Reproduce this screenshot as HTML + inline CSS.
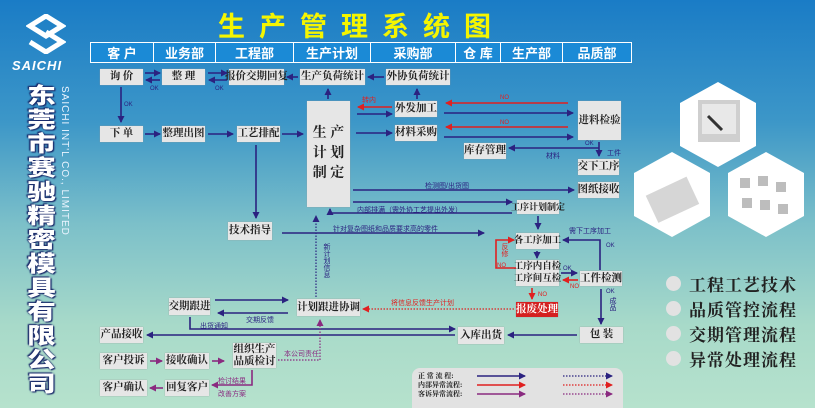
<!DOCTYPE html>
<html><head><meta charset="utf-8"><style>
*{margin:0;padding:0;box-sizing:border-box}
html,body{width:815px;height:408px;overflow:hidden}
#w{position:absolute;left:0;top:0;width:815px;height:408px;overflow:hidden;background:linear-gradient(180deg,#1a7cc6 0%,#3d97c8 30%,#7cc0c9 55%,#a8dac9 80%,#b6e2cd 100%);font-family:"Liberation Serif","Noto Serif CJK SC",serif}
.b{position:absolute;background:#e6e6e6;color:#222;font-weight:bold;font-size:10.5px;display:flex;align-items:center;justify-content:center;text-align:center;line-height:12px;white-space:nowrap;box-shadow:0 0 1px #999}
.h{position:absolute;top:42px;height:21px;border:1px solid #fff;background:#1b8ad6;color:#fff;font-family:"Liberation Sans","Noto Sans CJK SC",sans-serif;font-weight:bold;font-size:13px;display:flex;align-items:center;justify-content:center}
.t{position:absolute;font-family:"Liberation Sans","Noto Sans CJK SC",sans-serif;font-size:7px;color:#2b2280;white-space:nowrap}
.r{color:#e02020}.p{color:#8a2a80}
.bl{position:absolute;left:666px;font-size:17px;font-weight:bold;color:#222;display:flex;align-items:center;letter-spacing:1px}
.bl i{display:inline-block;width:15px;height:15px;border-radius:50%;background:#e2e2e2;margin-right:8px}
</style></head><body><div id="w">
<div style="position:absolute;left:218px;top:5px;font-family:'Liberation Sans','Noto Sans CJK SC',sans-serif;font-weight:bold;font-size:27px;color:#f5f500;letter-spacing:14px">生产管理系统图</div>
<div class="h" style="left:90px;width:64px">客 户</div>
<div class="h" style="left:153px;width:63px">业务部</div>
<div class="h" style="left:215px;width:79px">工程部</div>
<div class="h" style="left:293px;width:78px">生产计划</div>
<div class="h" style="left:370px;width:86px">采购部</div>
<div class="h" style="left:455px;width:46px">仓 库</div>
<div class="h" style="left:500px;width:63px">生产部</div>
<div class="h" style="left:562px;width:70px">品质部</div>

<svg style="position:absolute;left:26px;top:14px" width="40" height="40" viewBox="0 0 40 40"><path d="M20 2 L36 12 L20 22 L4 12 Z" fill="none" stroke="#fff" stroke-width="5"/><path d="M20 18 L36 28 L20 38 L4 28" fill="none" stroke="#fff" stroke-width="5"/></svg>
<div style="position:absolute;left:12px;top:58px;font-family:'Liberation Sans',sans-serif;font-weight:bold;font-style:italic;font-size:13px;color:#fff;letter-spacing:1px">SAICHI</div>
<div style="position:absolute;left:22px;top:84px;height:320px;writing-mode:vertical-rl;white-space:nowrap;transform:scaleX(1.3);transform-origin:left top;font-family:'Liberation Sans','Noto Sans CJK SC',sans-serif;font-weight:900;font-size:22px;letter-spacing:2px;line-height:26px;color:#fff;text-shadow:0 0 2px #1a2a6a,1px 1px 1px #1a2a6a,-1px -1px 1px #1a2a6a">东莞市赛驰精密模具有限公司</div>
<div style="position:absolute;left:59px;top:86px;writing-mode:vertical-rl;white-space:nowrap;font-family:'Liberation Sans',sans-serif;font-size:10px;color:#eaf4ff;letter-spacing:1px">SAICHI INT'L CO., LIMITED</div>

<div class="b" style="left:100px;top:69px;width:43px;height:16px">询 价</div>
<div class="b" style="left:162px;top:69px;width:43px;height:16px">整 理</div>
<div class="b" style="left:229px;top:69px;width:55px;height:16px">报价交期回复</div>
<div class="b" style="left:300px;top:69px;width:65px;height:16px">生产负荷统计</div>
<div class="b" style="left:386px;top:69px;width:64px;height:16px">外协负荷统计</div>
<div class="b" style="left:100px;top:126px;width:43px;height:16px">下 单</div>
<div class="b" style="left:162px;top:126px;width:43px;height:16px">整理出图</div>
<div class="b" style="left:237px;top:126px;width:43px;height:16px">工艺排配</div>
<div class="b" style="left:307px;top:101px;width:43px;height:106px;font-size:14px;line-height:20px">生 产<br>计 划<br>制 定</div>
<div class="b" style="left:395px;top:101px;width:42px;height:16px">外发加工</div>
<div class="b" style="left:395px;top:125px;width:42px;height:16px">材料采购</div>
<div class="b" style="left:578px;top:101px;width:43px;height:39px">进料检验</div>
<div class="b" style="left:464px;top:143px;width:42px;height:16px">库存管理</div>
<div class="b" style="left:578px;top:159px;width:41px;height:16px">交下工序</div>
<div class="b" style="left:578px;top:182px;width:41px;height:16px">图纸接收</div>
<div class="b" style="left:517px;top:200px;width:42px;height:14px;font-size:9px">工序计划制定</div>
<div class="b" style="left:228px;top:222px;width:44px;height:18px">技术指导</div>
<div class="b" style="left:516px;top:233px;width:43px;height:16px;font-size:9.5px">各工序加工</div>
<div class="b" style="left:516px;top:260px;width:43px;height:26px;font-size:9.5px">工序内自检<br>工序间互检</div>
<div class="b" style="left:580px;top:271px;width:42px;height:15px">工件检测</div>
<div class="b" style="left:516px;top:302px;width:42px;height:15px;background:#d42020;color:#fff">报废处理</div>
<div class="b" style="left:169px;top:298px;width:41px;height:17px">交期跟进</div>
<div class="b" style="left:297px;top:299px;width:63px;height:17px">计划跟进协调</div>
<div class="b" style="left:100px;top:327px;width:43px;height:16px">产品接收</div>
<div class="b" style="left:458px;top:327px;width:46px;height:17px">入库出货</div>
<div class="b" style="left:580px;top:327px;width:43px;height:16px">包 装</div>
<div class="b" style="left:100px;top:353px;width:47px;height:16px">客户投诉</div>
<div class="b" style="left:165px;top:353px;width:44px;height:16px">接收确认</div>
<div class="b" style="left:233px;top:343px;width:43px;height:25px">组织生产<br>品质检讨</div>
<div class="b" style="left:100px;top:380px;width:47px;height:16px">客户确认</div>
<div class="b" style="left:165px;top:380px;width:44px;height:16px">回复客户</div>
<div style="position:absolute;left:412px;top:368px;width:211px;height:50px;background:#e2e2e2;border-radius:8px"></div>
<div style="position:absolute;left:418px;top:372px;font-size:7px;line-height:9px;font-weight:bold;color:#222">正 常 流 程:<br>内部异常流程:<br>客诉异常流程:</div>

<svg style="position:absolute;left:0;top:0" width="815" height="408">
<defs>
<marker id="n" markerUnits="userSpaceOnUse" markerWidth="7" markerHeight="7" refX="6" refY="3.5" orient="auto"><path d="M0,0 L7,3.5 L0,7 Z" fill="#2b2280"/></marker>
<marker id="rd" markerUnits="userSpaceOnUse" markerWidth="7" markerHeight="7" refX="6" refY="3.5" orient="auto"><path d="M0,0 L7,3.5 L0,7 Z" fill="#e02020"/></marker>
<marker id="pu" markerUnits="userSpaceOnUse" markerWidth="7" markerHeight="7" refX="6" refY="3.5" orient="auto"><path d="M0,0 L7,3.5 L0,7 Z" fill="#8a2a80"/></marker>
</defs>
<g stroke="#2b2280" stroke-width="1.6" fill="none" marker-end="url(#n)">
<path d="M145 73H160"/><path d="M160 80H146"/><path d="M208 73H227"/><path d="M227 80H209"/>
<path d="M298 77H287"/><path d="M384 77H368"/><path d="M328 99V89"/><path d="M417 99V89"/>
<path d="M121 87V122"/><path d="M145 134H160"/><path d="M208 134H233"/><path d="M282 134H303"/>
<path d="M357 114H392"/><path d="M356 133H392"/><path d="M444 113H573"/><path d="M444 137H573"/>
<path d="M599 142V156"/><path d="M599 148H509"/>
<path d="M353 190H574"/><path d="M353 202H512"/><path d="M512 213H330V209"/>
<path d="M256 145V218"/><path d="M282 233H484"/><path d="M538 216V229"/><path d="M537 251V258"/>
<path d="M561 273H577"/><path d="M600 270V240H563"/><path d="M601 289V324"/><path d="M577 335H508"/>
<path d="M190 317V329H455"/><path d="M455 335H147"/><path d="M215 300H288"/><path d="M288 313H218"/>
<path d="M477 376H525"/>
</g>
<g stroke="#2b2280" stroke-width="1.2" fill="none" stroke-dasharray="1.5 1.5" marker-end="url(#n)"><path d="M316 297V216"/><path d="M563 376H612"/></g>
<g stroke="#e02020" stroke-width="1.6" fill="none" marker-end="url(#rd)">
<path d="M392 107H358"/><path d="M568 103H446"/><path d="M568 127H446"/>
<path d="M516 268H496V240H514"/><path d="M578 280H563"/><path d="M532 288V299"/><path d="M477 385H525"/>
</g>
<g stroke="#e02020" stroke-width="1.2" fill="none" stroke-dasharray="1.5 1.5" marker-end="url(#rd)"><path d="M514 309H363"/><path d="M563 385H612"/></g>
<g stroke="#8a2a80" stroke-width="1.6" fill="none" marker-end="url(#pu)">
<path d="M150 361H162"/><path d="M212 361H224"/><path d="M252 370V385H212"/><path d="M163 388H150"/><path d="M477 394H525"/>
</g>
<g stroke="#8a2a80" stroke-width="1.2" fill="none" stroke-dasharray="1.5 1.5" marker-end="url(#pu)"><path d="M278 360H320V320"/><path d="M563 394H612"/></g>
</svg>

<div class="t" style="left:150px;top:86px;font-size:6px">OK</div>
<div class="t" style="left:215px;top:86px;font-size:6px">OK</div>
<div class="t" style="left:124px;top:102px;font-size:6px">OK</div>
<div class="t r" style="left:362px;top:95px">转内</div>
<div class="t r" style="left:500px;top:95px;font-size:6px">NO</div>
<div class="t r" style="left:500px;top:120px;font-size:6px">NO</div>
<div class="t" style="left:585px;top:141px;font-size:6px">OK</div>
<div class="t" style="left:607px;top:148px">工件</div>
<div class="t" style="left:546px;top:151px">材料</div>
<div class="t" style="left:425px;top:181px">检测图/出货图</div>
<div class="t" style="left:357px;top:205px">内部排满（需外协工艺提出外发）</div>
<div class="t" style="left:333px;top:224px">针对复杂图纸和品质要求高的零件</div>
<div class="t" style="left:569px;top:226px">需下工序加工</div>
<div class="t" style="left:606px;top:243px;font-size:6px">OK</div>
<div class="t r" style="left:498px;top:243px;line-height:13px;writing-mode:vertical-rl">反修</div>
<div class="t r" style="left:497px;top:263px;font-size:6px">NO</div>
<div class="t" style="left:563px;top:266px;font-size:6px">OK</div>
<div class="t r" style="left:570px;top:284px;font-size:6px">NO</div>
<div class="t r" style="left:538px;top:292px;font-size:6px">NO</div>
<div class="t" style="left:606px;top:289px;font-size:6px">OK</div>
<div class="t" style="left:606px;top:297px;line-height:12px;writing-mode:vertical-rl">成品</div>
<div class="t r" style="left:391px;top:298px">将信息反馈生产计划</div>
<div class="t" style="left:322px;top:243px;line-height:9px;writing-mode:vertical-rl">新计划信息</div>
<div class="t" style="left:246px;top:315px">交期反馈</div>
<div class="t" style="left:200px;top:321px">出货通知</div>
<div class="t p" style="left:284px;top:349px">本公司责任</div>
<div class="t p" style="left:218px;top:376px">检讨结果</div>
<div class="t p" style="left:218px;top:389px">改善方案</div>

<svg style="position:absolute;left:630px;top:80px" width="185" height="160">
<polygon points="88,2 126,23 126,66 88,87 50,66 50,23" fill="#fff"/>
<rect x="68" y="20" width="42" height="42" fill="#cfcfcf"/><rect x="72" y="24" width="34" height="30" fill="#e8e8e8"/><path d="M78 36 L92 50" stroke="#333" stroke-width="3"/>
<polygon points="42,72 80,93 80,136 42,157 4,136 4,93" fill="#fff"/>
<rect x="20" y="105" width="45" height="30" fill="#d6d6d6" transform="rotate(-25 42 120)"/>
<polygon points="136,72 174,93 174,136 136,157 98,136 98,93" fill="#fff"/>
<g fill="#bdbdbd"><rect x="110" y="98" width="10" height="10"/><rect x="128" y="96" width="10" height="10"/><rect x="146" y="102" width="10" height="10"/><rect x="112" y="118" width="10" height="10"/><rect x="130" y="120" width="10" height="10"/><rect x="148" y="124" width="10" height="10"/></g>
</svg>

<div class="bl" style="top:271px"><i></i>工程工艺技术</div>
<div class="bl" style="top:296px"><i></i>品质管控流程</div>
<div class="bl" style="top:321px"><i></i>交期管理流程</div>
<div class="bl" style="top:346px"><i></i>异常处理流程</div>
</div></body></html>
